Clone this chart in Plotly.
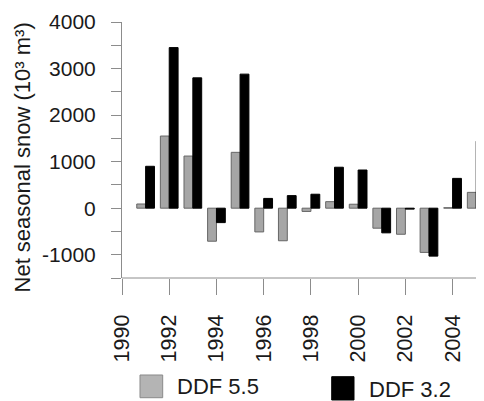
import plotly.graph_objects as go

years = [1991, 1992, 1993, 1994, 1995, 1996, 1997, 1998, 1999, 2000, 2001, 2002, 2003, 2004, 2005]
ddf_55 = [90, 1550, 1120, -710, 1200, -510, -700, -70, 140, 85, -430, -560, -950, 10, 340]
ddf_32 = [900, 3450, 2800, -310, 2880, 210, 270, 300, 880, 820, -530, -20, -1030, 640, 1440]
x_ticks = [1990, 1992, 1994, 1996, 1998, 2000, 2002, 2004]
y_ticks = [-1000, 0, 1000, 2000, 3000, 4000]
y_tick_text = ["-1000", "0", "1000", "2000", "3000", "4000"]

FONT = "Liberation Sans, Arial, sans-serif"
TXT = "#1a1a1a"
AX = "#8c8c8c"
GRAY = "#a6a6a6"

fig = go.Figure()
fig.add_bar(x=years, y=ddf_55, name="DDF 5.5", marker=dict(color=GRAY, line=dict(color="#666666", width=1)))
fig.add_bar(x=years, y=ddf_32, name="DDF 3.2", marker=dict(color="#000000", line=dict(color="#000000", width=1)))

# the page body has an 8px margin, so the figure is sized/placed to compensate
fig.update_layout(
    width=476, height=393,
    margin=dict(l=114, r=0, t=14, b=123, autoexpand=False),
    paper_bgcolor="white", plot_bgcolor="white",
    barmode="group", bargap=0.25, bargroupgap=0,
    showlegend=False,
    font=dict(family=FONT, color=TXT, size=21),
)
fig.update_xaxes(
    range=[1990, 2005.33], tickmode="array", tickvals=x_ticks,
    ticktext=[str(v) for v in x_ticks], tickangle=-90,
    ticks="outside", ticklen=16, tickcolor=AX, tickwidth=1,
    showline=False, showgrid=False, zeroline=False, automargin=False,
    tickfont=dict(family=FONT, size=21.5, color=TXT), ticklabelstandoff=11,
)
fig.update_yaxes(
    range=[-1500, 4000], tickmode="array", tickvals=y_ticks, ticktext=y_tick_text,
    ticks="outside", ticklen=10, tickcolor=AX, tickwidth=1,
    minor=dict(dtick=500, tick0=0, ticks="outside", ticklen=10, tickcolor=AX, tickwidth=1, showgrid=False),
    showline=True, linecolor=AX, linewidth=1,
    showgrid=False, zeroline=False, automargin=False,
    tickfont=dict(family=FONT, size=21, color=TXT), ticklabelstandoff=11,
)
# x-axis baseline (ends at 2005 like the original)
fig.add_shape(type="line", xref="x", yref="paper", x0=1990, x1=2005, y0=0, y1=0,
              line=dict(color=AX, width=1))
# y-axis title
fig.add_annotation(text="Net seasonal snow (10³ m³)", xref="paper", yref="paper",
                   x=-0.2735, y=0.4707, xanchor="center", yanchor="middle",
                   textangle=-90, showarrow=False, font=dict(family=FONT, size=22, color=TXT))
# legend
fig.add_shape(type="rect", xref="paper", yref="paper", x0=0.0497, x1=0.1124, y0=-0.3789, y1=-0.4676,
              fillcolor="#b4b4b4", line=dict(color="#8a8a8a", width=1))
fig.add_annotation(text="DDF 5.5", xref="paper", yref="paper", x=0.1464, y=-0.4219,
                   xanchor="left", yanchor="middle", showarrow=False,
                   font=dict(family=FONT, size=22, color=TXT))
fig.add_shape(type="rect", xref="paper", yref="paper", x0=0.5793, x1=0.6409, y0=-0.3855, y1=-0.4766,
              fillcolor="#000000", line=dict(color="#000000", width=1))
fig.add_annotation(text="DDF 3.2", xref="paper", yref="paper", x=0.676, y=-0.4336,
                   xanchor="left", yanchor="middle", showarrow=False,
                   font=dict(family=FONT, size=22, color=TXT))

fig.write_html("out.html")
